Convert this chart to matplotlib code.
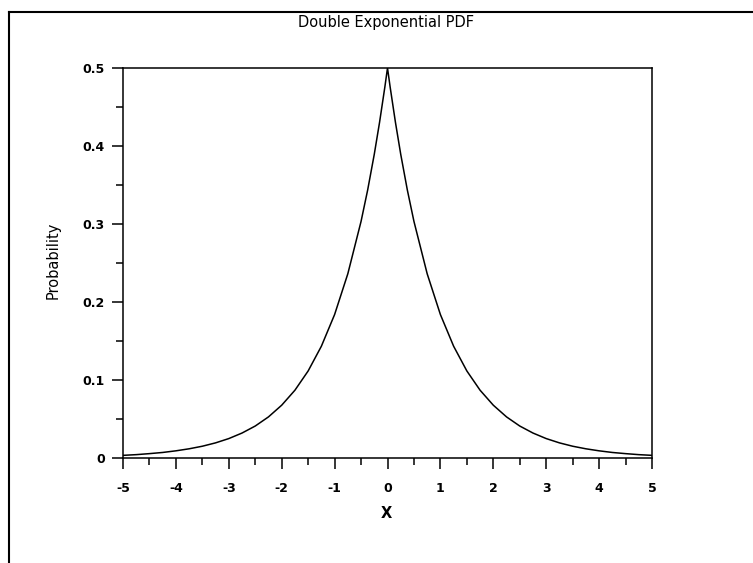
import matplotlib
matplotlib.use("Agg")
import matplotlib.pyplot as plt
from matplotlib.lines import Line2D
from matplotlib.ticker import MultipleLocator

plt.rcParams["font.family"] = ["DejaVu Sans"]

# values
x = [-5.0, -4.75, -4.5, -4.25, -4.0, -3.75, -3.5, -3.25, -3.0, -2.75,
     -2.5, -2.25, -2.0, -1.75, -1.5, -1.25, -1.0, -0.75, -0.5, -0.375, -0.25,
     -0.15, -0.05, 0.0, 0.05, 0.15, 0.25, 0.375, 0.5, 0.75, 1.0, 1.25, 1.5, 1.75,
     2.0, 2.25, 2.5, 2.75, 3.0, 3.25, 3.5, 3.75, 4.0, 4.25,
     4.5, 4.75, 5.0]
prob = [0.0034, 0.0043, 0.0056, 0.0071, 0.0092, 0.0118, 0.0151, 0.0194, 0.0249, 0.0320,
        0.0410, 0.0527, 0.0677, 0.0869, 0.1116, 0.1433, 0.1839, 0.2362, 0.3033, 0.3436, 0.3894,
        0.4304, 0.4756, 0.5, 0.4756, 0.4304, 0.3894, 0.3436, 0.3033, 0.2362, 0.1839, 0.1433, 0.1116, 0.0869,
        0.0677, 0.0527, 0.0410, 0.0320, 0.0249, 0.0194, 0.0151, 0.0118, 0.0092, 0.0071,
        0.0056, 0.0043, 0.0034]

xticks = [-5, -4, -3, -2, -1, 0, 1, 2, 3, 4, 5]
xticklabels = ["-5", "-4", "-3", "-2", "-1", "0", "1", "2", "3", "4", "5"]
yticks = [0, 0.1, 0.2, 0.3, 0.4, 0.5]
yticklabels = ["0", "0.1", "0.2", "0.3", "0.4", "0.5"]

W, H = 753, 563
fig = plt.figure(figsize=(W / 100, H / 100), dpi=100)
ax = fig.add_axes([123 / W, 1 - 458 / H, (652 - 123) / W, (458 - 68) / H])

ax.plot(x, prob, color="black", lw=1.1)

ax.set_xlim(-5, 5)
ax.set_ylim(0, 0.5)
ax.set_xticks(xticks)
ax.set_xticklabels(xticklabels, fontsize=9, fontweight="bold")
ax.set_yticks(yticks)
ax.set_yticklabels(yticklabels, fontsize=9, fontweight="bold")
ax.xaxis.set_minor_locator(MultipleLocator(0.5))
ax.yaxis.set_minor_locator(MultipleLocator(0.05))
ax.tick_params(which="major", direction="out", length=8, width=1.1)
ax.tick_params(which="minor", direction="out", length=5, width=1.1)
ax.tick_params(axis="x", which="major", pad=9)
ax.tick_params(axis="y", which="major", pad=5)
for s in ax.spines.values():
    s.set_linewidth(1.1)

fig.text(386 / W, 1 - 22 / H, "Double Exponential PDF", ha="center", va="center", fontsize=10.5)
fig.text(53 / W, 1 - 260 / H, "Probability", ha="center", va="center", rotation=90, fontsize=10.5)
fig.text(386 / W, 1 - 513 / H, "X", ha="center", va="center", fontsize=10.5, fontweight="bold")

# outer frame (only left and top edges are inside the picture)
fig.add_artist(Line2D([9 / W, 9 / W], [0, 1 - 12 / H], color="black", lw=1.5))
fig.add_artist(Line2D([9 / W, 1], [1 - 12 / H, 1 - 12 / H], color="black", lw=1.5))

fig.savefig("out.png", dpi=100)
